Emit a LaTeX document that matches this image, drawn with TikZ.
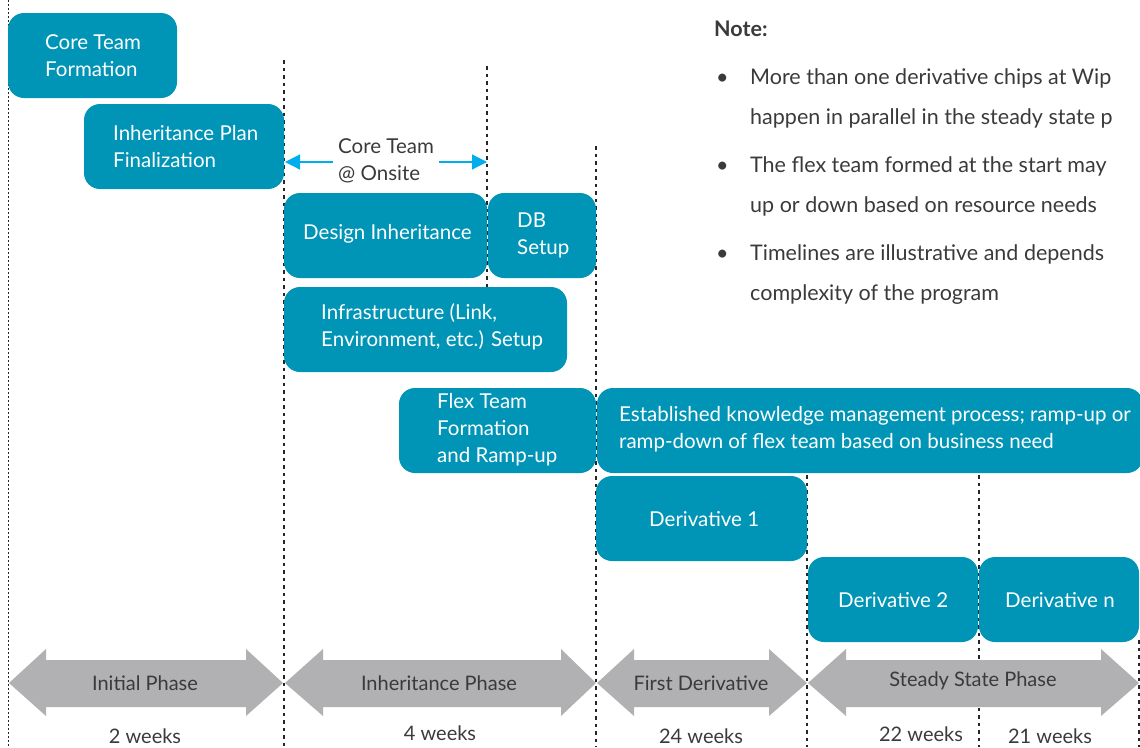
\documentclass[tikz,border=0pt]{standalone}
\usepackage{fontspec}
\setmainfont{Lato}
\usetikzlibrary{arrows.meta}
\definecolor{tealbox}{HTML}{0095B6}
\definecolor{phasegray}{HTML}{B1B1B3}
\definecolor{inkdark}{HTML}{3A3A3C}
\definecolor{arrowblue}{HTML}{00AEEF}
\tikzset{
  x=1pt,y=-1pt,
  box/.style={fill=tealbox,rounded corners=16pt,inner sep=0pt,outer sep=0pt,anchor=north west},
  boxtext/.style={text=white,font=\fontsize{20.5}{27}\selectfont,align=left,anchor=west,inner sep=0pt},
  phase/.style={fill=phasegray,draw=none},
  phasetext/.style={text=inkdark,font=\fontsize{20}{24}\selectfont,inner sep=0pt},
  weektext/.style={text=inkdark,font=\fontsize{20}{24}\selectfont,inner sep=0pt},
  guide/.style={draw=black!85,line width=1.5pt,dash pattern=on 3.5pt off 4pt},
  fineguide/.style={draw=black!85,line width=1pt,dash pattern=on 1.5pt off 2.5pt},
  notetext/.style={text=inkdark,font=\fontsize{21.5}{26}\selectfont,anchor=base west,inner sep=0pt},
  span/.style={draw=arrowblue,line width=1.2pt,-{Triangle[length=15pt,width=15pt]}}
}
\newcommand{\phasearrow}[5]{%
  \fill[phase] (#1,683) -- (#2,649) -- (#2,660) -- (#3,660) -- (#3,649) -- (#4,683) -- (#3,716) -- (#3,707) -- (#2,707) -- (#2,716) -- cycle;
}
\begin{document}
\begin{tikzpicture}
\clip (0,0) rectangle (1140,747);
% guides
\coordinate (g0a) at (8,0);      \coordinate (g0b) at (8,747);
\coordinate (g1a) at (284,60);   \coordinate (g1b) at (284,747);
\coordinate (g2a) at (487,66);   \coordinate (g2b) at (487,287);
\coordinate (g3a) at (596,146);  \coordinate (g3b) at (596,747);
\coordinate (g4a) at (807,475);  \coordinate (g4b) at (807,747);
\coordinate (g5a) at (979,475);  \coordinate (g5b) at (979,747);
\coordinate (g6a) at (1139,640); \coordinate (g6b) at (1139,747);
\draw[fineguide] (g0a) -- (g0b);
\draw[guide] (g1a) -- (g1b);
\draw[guide] (g2a) -- (g2b);
\draw[guide] (g3a) -- (g3b);
\draw[guide] (g4a) -- (g4b);
\draw[guide] (g5a) -- (g5b);
\draw[guide] (g6a) -- (g6b);
% boxes
\node[box,minimum width=169pt,minimum height=85pt] (core) at (8,13) {};
\node[box,minimum width=200pt,minimum height=85pt] (plan) at (84,104) {};
\node[box,minimum width=203pt,minimum height=85pt] (design) at (284,193) {};
\node[box,minimum width=108pt,minimum height=85pt] (db) at (488,193) {};
\node[box,minimum width=283pt,minimum height=85pt] (infra) at (284,287) {};
\node[box,minimum width=197pt,minimum height=85pt] (flex) at (399,388) {};
\node[box,minimum width=546pt,minimum height=85pt] (estab) at (597,388) {};
\node[box,minimum width=211pt,minimum height=85pt] (d1) at (596,476) {};
\node[box,minimum width=170pt,minimum height=85pt] (d2) at (808,557) {};
\node[box,minimum width=160pt,minimum height=85pt] (dn) at (979,557) {};
% box texts
\node[boxtext] (tcore) at (45,56) {Core Team\\Formation};
\node[boxtext] (tplan) at (113,147) {Inheritance Plan\\Finalization};
\node[boxtext] (tdesign) at (303,234) {Design Inheritance};
\node[boxtext] (tdb) at (517,235) {DB\\Setup};
\node[boxtext] (tinfra) at (321,327) {Infrastructure (Link,\\Environment, etc.) Setup};
\node[boxtext] (tflex) at (437,430) {Flex Team\\Formation\\and Ramp-up};
\node[boxtext] (testab) at (619,429) {Established knowledge management process; ramp-up or\\ramp-down of flex team based on business need};
\node[boxtext] (td1) at (649,519) {Derivative 1};
\node[boxtext] (td2) at (838,600) {Derivative 2};
\node[boxtext] (tdn) at (1005,600) {Derivative n};
% onsite span
\node[text=inkdark,font=\fontsize{20.5}{27}\selectfont,align=left,anchor=west,inner sep=0pt] (onsite) at (338,161) {Core Team\\@ Onsite};
\coordinate (spanl) at (285,162);
\coordinate (spanr) at (487,162);
\coordinate (spanla) at (333,162);
\coordinate (spanra) at (439,162);
\draw[span] (spanla) -- (spanl);
\draw[span] (spanra) -- (spanr);
% phases
\phasearrow{9}{46}{246}{283}{}
\phasearrow{285}{323}{561}{596}{}
\phasearrow{597}{634}{769}{807}{}
\phasearrow{808}{846}{1101}{1139}{}
\node[phasetext] (pinit) at (145,683) {Initial Phase};
\node[phasetext] (pinh) at (439,683) {Inheritance Phase};
\node[phasetext] (pfirst) at (701,683) {First Derivative};
\node[phasetext] (psteady) at (973,681) {Steady State Phase};
% durations
\node[weektext] (w1) at (145,736) {2 weeks};
\node[weektext] (w2) at (440,733) {4 weeks};
\node[weektext] (w3) at (701,736) {24 weeks};
\node[weektext] (w4) at (921,734) {22 weeks};
\node[weektext] (w5) at (1050,736) {21 weeks};
% note
\node[notetext,font=\fontsize{21.5}{26}\bfseries] (note) at (714,36) {Note:};
\node[notetext] (b1) at (716,84) {•};
\node[notetext] (n1) at (750,84) {More than one derivative chips at Wip};
\node[notetext] (n2) at (750,124) {happen in parallel in the steady state p};
\node[notetext] (b2) at (716,172) {•};
\node[notetext] (n3) at (750,172) {The flex team formed at the start may};
\node[notetext] (n4) at (750,212) {up or down based on resource needs};
\node[notetext] (b3) at (716,260) {•};
\node[notetext] (n5) at (750,260) {Timelines are illustrative and depends};
\node[notetext] (n6) at (750,300) {complexity of the program};
\end{tikzpicture}
\end{document}
